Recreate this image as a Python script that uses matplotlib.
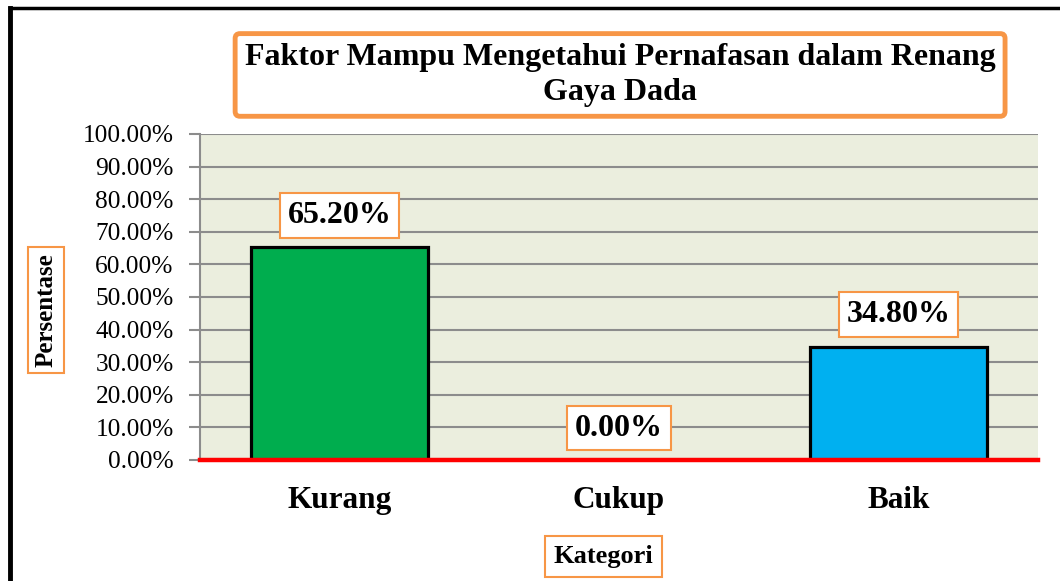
import matplotlib.pyplot as plt
from matplotlib.lines import Line2D

categories = ['Kurang', 'Cukup', 'Baik']
values = [65.20, 0.00, 34.80]
bar_colors = ['#00AD4E', '#00AD4E', '#00B0F0']
yticks = [0, 10, 20, 30, 40, 50, 60, 70, 80, 90, 100]

plt.rcParams['font.family'] = ['Liberation Serif', 'DejaVu Serif']
orange = '#F79646'

fig = plt.figure(figsize=(10.6, 5.81), dpi=100)
ax = fig.add_axes([0.1887, 0.2083, 0.7905, 0.5611])
ax.set_facecolor('#EBEEDE')

x = range(len(categories))
ax.bar(x, values, width=0.634, color=bar_colors, edgecolor='black', linewidth=2.3, zorder=3)

ax.set_xlim(-0.5, len(categories) - 0.5)
ax.set_ylim(0, 100)
ax.set_yticks(yticks)
ax.set_yticklabels(['%.2f%%' % v for v in yticks], fontsize=18.3)
ax.yaxis.grid(True, color='#8C8C8C', linewidth=1.5, zorder=0)
ax.set_axisbelow(True)
ax.tick_params(axis='y', length=8, width=1.5, color='#8C8C8C', pad=11)
ax.set_xticks(list(x))
ax.set_xticklabels(categories, fontsize=22.5, fontweight='bold')
ax.tick_params(axis='x', length=0, pad=19)

for side in ['top', 'right']:
    ax.spines[side].set_visible(False)
ax.spines['left'].set_color('#8C8C8C')
ax.spines['left'].set_linewidth(1.5)
ax.spines['bottom'].set_color('#FF0000')
ax.spines['bottom'].set_linewidth(3.2)
ax.spines['bottom'].set_zorder(5)

for xi, v in zip(x, values):
    ax.annotate('%.2f%%' % v, (xi, v), xytext=(0, 23), textcoords='offset points',
                ha='center', va='center', fontsize=23, fontweight='bold', zorder=6,
                bbox=dict(boxstyle='square,pad=0.24', facecolor='white', edgecolor=orange, linewidth=1.5))

fig.text(0.585, 0.871, 'Faktor Mampu Mengetahui Pernafasan dalam Renang\nGaya Dada',
         ha='center', va='center', fontsize=23, fontweight='bold', linespacing=1.25,
         bbox=dict(boxstyle='round,pad=0.3,rounding_size=0.15', facecolor='white', edgecolor=orange, linewidth=3.5))

fig.text(0.0434, 0.466, 'Persentase', rotation=90, ha='center', va='center',
         fontsize=18, fontweight='bold',
         bbox=dict(boxstyle='square,pad=0.25', facecolor='white', edgecolor=orange, linewidth=1.5))
fig.text(0.5693, 0.042, 'Kategori', ha='center', va='center', fontsize=19, fontweight='bold',
         bbox=dict(boxstyle='square,pad=0.33', facecolor='white', edgecolor=orange, linewidth=1.5))

# outer chart frame (left and top only visible)
fig.add_artist(Line2D([0.0094, 0.0094], [0.0, 0.986], color='black', linewidth=3.5))
fig.add_artist(Line2D([0.0094, 1.0], [0.986, 0.986], color='black', linewidth=2.5))

fig.savefig('out.png', dpi=100)
